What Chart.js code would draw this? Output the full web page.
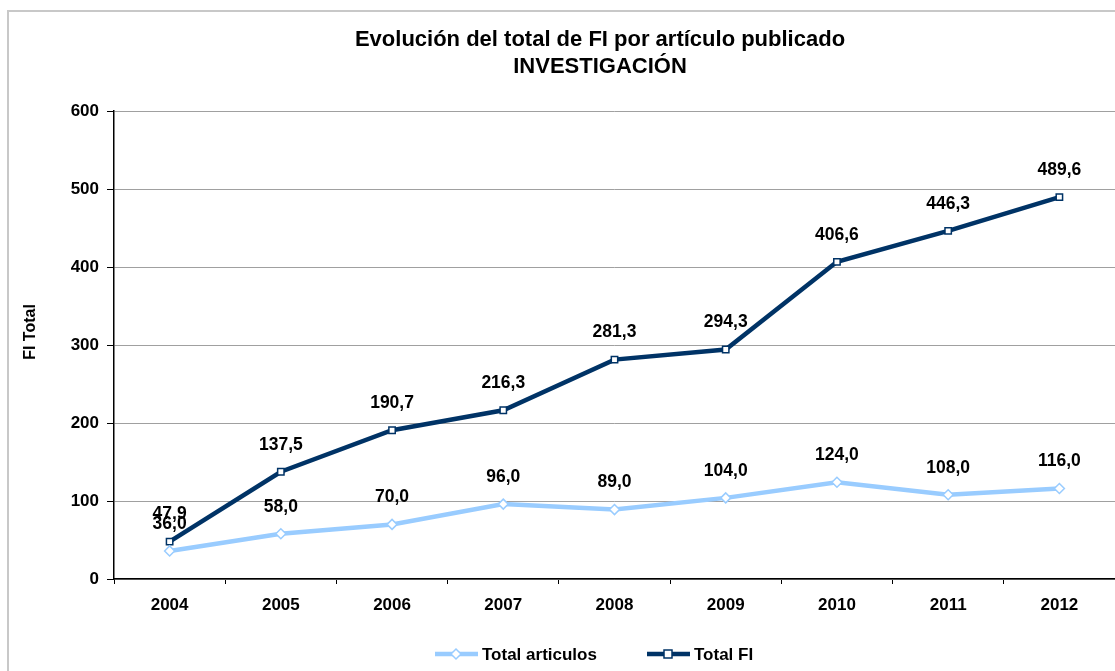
<!DOCTYPE html>
<html>
<head>
<meta charset="utf-8">
<script src="https://cdn.jsdelivr.net/npm/chart.js@4"></script>
<style>
  html, body { margin: 0; padding: 0; background: #fff; }
  #wrap { width: 1115px; height: 671px; position: relative; }
</style>
</head>
<body>
<div id="wrap"><canvas id="chart" width="1115" height="671"></canvas></div>
<script>
// Chart data
const years = ['2004', '2005', '2006', '2007', '2008', '2009', '2010', '2011', '2012'];
const totalArticulos = [36.0, 58.0, 70.0, 96.0, 89.0, 104.0, 124.0, 108.0, 116.0];
const totalFI = [47.9, 137.5, 190.7, 216.3, 281.3, 294.3, 406.6, 446.3, 489.6];
const yTicks = [0, 100, 200, 300, 400, 500, 600];

const titleLines = ['Evolución del total de FI por artículo publicado', 'INVESTIGACIÓN'];
const FONT = '"Liberation Sans", Arial, sans-serif';
const lightBlue = '#99ccff';
const navy = '#003366';

// Draws the frame, titles, axis title, point labels and legend
const decorPlugin = {
    id: 'decor',
    beforeDraw(chart) {
        const ctx = chart.ctx;
        ctx.save();
        ctx.fillStyle = '#fff';
        ctx.fillRect(0, 0, chart.width, chart.height);
        ctx.strokeStyle = '#c8c8c8';
        ctx.lineWidth = 2;
        ctx.beginPath();
        ctx.moveTo(8, 671);
        ctx.lineTo(8, 11);
        ctx.lineTo(1115, 11);
        ctx.stroke();
        ctx.restore();
    },
    afterDraw(chart) {
        const ctx = chart.ctx;
        ctx.save();
        ctx.fillStyle = '#000';
        ctx.textAlign = 'center';
        ctx.textBaseline = 'middle';

        // title
        ctx.font = 'bold 22px ' + FONT;
        ctx.fillText(titleLines[0], 600, 40);
        ctx.fillText(titleLines[1], 600, 67);

        // y axis title
        ctx.font = 'bold 16px ' + FONT;
        ctx.translate(31, 332);
        ctx.rotate(-Math.PI / 2);
        ctx.fillText('FI Total', 0, 0);
        ctx.setTransform(1, 0, 0, 1, 0, 0);

        // point labels
        ctx.font = 'bold 17.5px ' + FONT;
        chart.data.datasets.forEach((ds, i) => {
            const meta = chart.getDatasetMeta(i);
            meta.data.forEach((pt, j) => {
                const txt = ds.data[j].toFixed(1).replace('.', ',');
                ctx.fillText(txt, pt.x, pt.y - 27);
            });
        });

        // legend
        const items = [
            { label: 'Total articulos', color: lightBlue, style: 'diamond', x: 435 },
            { label: 'Total FI', color: navy, style: 'square', x: 647 }
        ];
        const ly = 654;
        ctx.textAlign = 'left';
        ctx.font = 'bold 17px ' + FONT;
        items.forEach(it => {
            ctx.strokeStyle = it.color;
            ctx.lineWidth = 4.5;
            ctx.beginPath();
            ctx.moveTo(it.x, ly);
            ctx.lineTo(it.x + 43, ly);
            ctx.stroke();
            ctx.fillStyle = '#fff';
            ctx.lineWidth = 1.5;
            const cx = it.x + 21;
            ctx.beginPath();
            if (it.style === 'diamond') {
                ctx.moveTo(cx, ly - 5);
                ctx.lineTo(cx + 5, ly);
                ctx.lineTo(cx, ly + 5);
                ctx.lineTo(cx - 5, ly);
                ctx.closePath();
            } else {
                ctx.rect(cx - 4, ly - 4, 8, 8);
            }
            ctx.fill();
            ctx.stroke();
            ctx.fillStyle = '#000';
            ctx.fillText(it.label, it.x + 47, ly + 1);
        });
        ctx.restore();
    }
};

const ctx = document.getElementById('chart').getContext('2d');
new Chart(ctx, {
    type: 'line',
    data: {
        labels: years,
        datasets: [
            {
                label: 'Total articulos',
                data: totalArticulos,
                borderColor: lightBlue,
                backgroundColor: '#fff',
                borderWidth: 4.5,
                pointStyle: 'rectRot',
                pointRadius: 5,
                pointBorderWidth: 1.5,
                pointBorderColor: lightBlue,
                pointBackgroundColor: '#fff',
                tension: 0
            },
            {
                label: 'Total FI',
                data: totalFI,
                borderColor: navy,
                backgroundColor: '#fff',
                borderWidth: 4.5,
                pointStyle: 'rect',
                pointRadius: 4.5,
                pointBorderWidth: 1.5,
                pointBorderColor: navy,
                pointBackgroundColor: '#fff',
                tension: 0
            }
        ]
    },
    options: {
        responsive: false,
        animation: false,
        layout: { autoPadding: false, padding: { top: 111, left: 0, right: 0, bottom: 0 } },
        plugins: {
            legend: { display: false },
            title: { display: false },
            tooltip: { enabled: false }
        },
        scales: {
            x: {
                offset: true,
                grid: { display: true, offset: true, drawOnChartArea: false, tickLength: 5, color: '#000' },
                border: { color: '#000', width: 1.5 },
                ticks: { color: '#000', font: { family: FONT, size: 17, weight: 'bold' }, padding: 11, maxRotation: 0 },
                afterFit(scale) { scale.height = 92; }
            },
            y: {
                min: 0,
                max: 600,
                afterBuildTicks(scale) { scale.ticks = yTicks.map(v => ({ value: v })); },
                grid: { color: '#a0a0a0', tickColor: '#000', tickLength: 7, lineWidth: 1 },
                border: { color: '#000', width: 1.5 },
                ticks: { color: '#000', font: { family: FONT, size: 17, weight: 'bold' }, padding: 8 },
                afterFit(scale) { scale.width = 114; }
            }
        }
    },
    plugins: [decorPlugin]
});
</script>
</body>
</html>
